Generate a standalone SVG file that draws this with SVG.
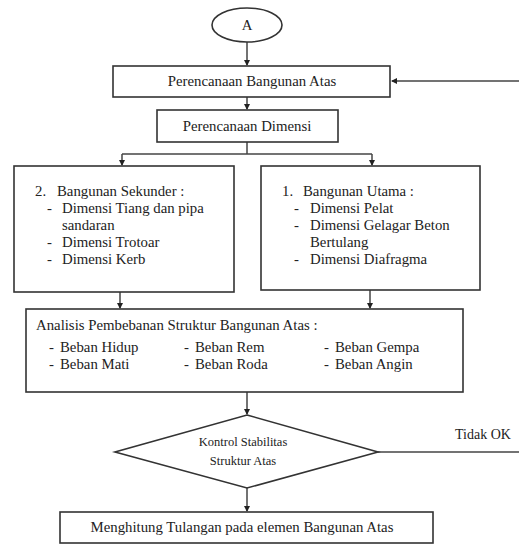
<svg xmlns="http://www.w3.org/2000/svg" width="519" height="544" viewBox="0 0 519 544" font-family="'Liberation Serif', Tinos, 'Times New Roman', 'DejaVu Serif', serif">
<style>
.box{fill:#fff;stroke:#333;stroke-width:1.6}
.ln{fill:none;stroke:#444;stroke-width:1.5}
text{font-family:'Liberation Serif', Tinos, 'Times New Roman', 'DejaVu Serif', serif;font-size:14.8px;fill:#222}
.sm{font-size:12.5px}
.c{text-anchor:middle}
</style>
<defs>
<marker id="ah" markerWidth="6" markerHeight="6" refX="5" refY="3" orient="auto" markerUnits="userSpaceOnUse">
<path d="M0,0 L6,3 L0,6 Z" fill="#222"/>
</marker>
</defs>
<rect width="519" height="544" fill="#fff"/>
<g id="connectors">
<line class="ln" x1="247" y1="42" x2="247" y2="65" marker-end="url(#ah)"/>
<line class="ln" x1="519" y1="81" x2="392" y2="81" marker-end="url(#ah)"/>
<line class="ln" x1="247" y1="97" x2="247" y2="109" marker-end="url(#ah)"/>
<polyline class="ln" points="247,142 247,154"/>
<polyline class="ln" points="122,154 372,154"/>
<line class="ln" x1="122" y1="154" x2="122" y2="165" marker-end="url(#ah)"/>
<line class="ln" x1="372" y1="154" x2="372" y2="165" marker-end="url(#ah)"/>
<line class="ln" x1="120" y1="292" x2="120" y2="308" marker-end="url(#ah)"/>
<line class="ln" x1="370" y1="290" x2="370" y2="308" marker-end="url(#ah)"/>
<line class="ln" x1="247" y1="392" x2="247" y2="414" marker-end="url(#ah)"/>
<line class="ln" x1="378" y1="452" x2="519" y2="452"/>
<line class="ln" x1="247" y1="488" x2="247" y2="511" marker-end="url(#ah)"/>
<text x="455" y="439" style="font-size:14px">Tidak OK</text>
</g>
<g id="start">
<ellipse cx="247" cy="25" rx="35" ry="17" fill="#fff" stroke="#333" stroke-width="1.6"/>
<text class="c" x="247" y="30">A</text>
</g>
<g id="perencanaan-bangunan-atas">
<rect class="box" x="113" y="66" width="277" height="31"/>
<text class="c" x="252" y="86">Perencanaan Bangunan Atas</text>
</g>
<g id="perencanaan-dimensi">
<rect class="box" x="157" y="110" width="181" height="32"/>
<text class="c" x="247" y="131">Perencanaan Dimensi</text>
</g>
<g id="bangunan-sekunder">
<rect class="box" x="14" y="166" width="220" height="126"/>
<text x="35" y="196">2.</text>
<text x="57" y="196">Bangunan Sekunder :</text>
<text x="47" y="213">-</text>
<text x="62" y="213">Dimensi Tiang dan pipa</text>
<text x="62" y="230">sandaran</text>
<text x="47" y="247">-</text>
<text x="62" y="247">Dimensi Trotoar</text>
<text x="47" y="264">-</text>
<text x="62" y="264">Dimensi Kerb</text>
</g>
<g id="bangunan-utama">
<rect class="box" x="261" y="166" width="219" height="124"/>
<text x="282" y="196">1.</text>
<text x="303" y="196">Bangunan Utama :</text>
<text x="294" y="213">-</text>
<text x="310" y="213">Dimensi Pelat</text>
<text x="294" y="230">-</text>
<text x="310" y="230">Dimensi Gelagar Beton</text>
<text x="310" y="247">Bertulang</text>
<text x="294" y="264">-</text>
<text x="310" y="264">Dimensi Diafragma</text>
</g>
<g id="analisis-pembebanan">
<rect class="box" x="26" y="309" width="437" height="83"/>
<text x="36" y="330">Analisis Pembebanan Struktur Bangunan Atas :</text>
<text x="49" y="352">-</text><text x="60" y="352">Beban Hidup</text>
<text x="49" y="369">-</text><text x="60" y="369">Beban Mati</text>
<text x="184" y="352">-</text><text x="195" y="352">Beban Rem</text>
<text x="184" y="369">-</text><text x="195" y="369">Beban Roda</text>
<text x="324" y="352">-</text><text x="335" y="352">Beban Gempa</text>
<text x="324" y="369">-</text><text x="335" y="369">Beban Angin</text>
</g>
<g id="kontrol-stabilitas">
<polygon points="247,415 378,452 247,488 115,452" fill="#fff" stroke="#333" stroke-width="1.6"/>
<text class="c sm" x="243" y="446">Kontrol Stabilitas</text>
<text class="c sm" x="243" y="465">Struktur Atas</text>
</g>
<g id="menghitung-tulangan">
<rect class="box" x="60" y="512" width="373" height="31"/>
<text class="c" x="242" y="532">Menghitung Tulangan pada elemen Bangunan Atas</text>
</g>
</svg>
